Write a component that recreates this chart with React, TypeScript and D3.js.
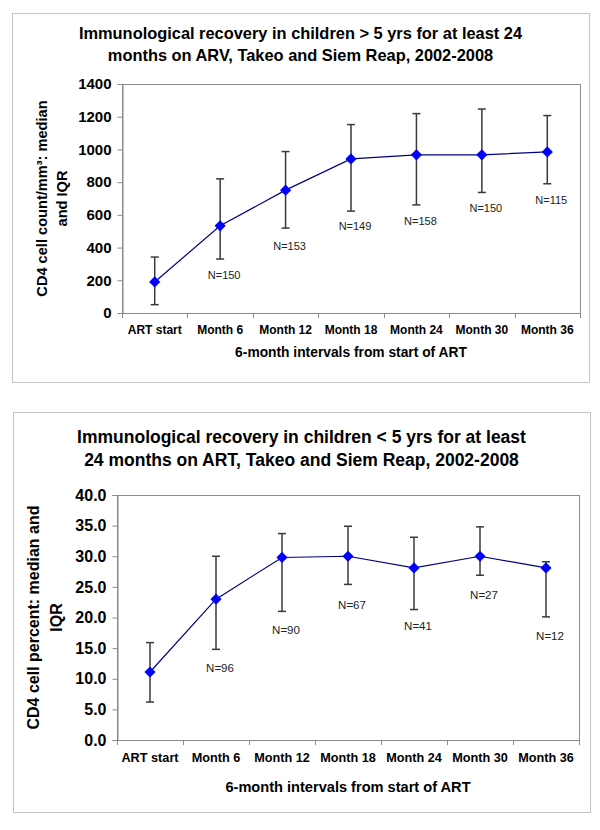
import React, { useEffect, useRef } from 'react';
import * as d3 from 'd3';

const categories = ['ART start', 'Month 6', 'Month 12', 'Month 18', 'Month 24', 'Month 30', 'Month 36'];

// chart 1: CD4 count, children > 5 yrs
const countMedian = [190, 533, 751, 942, 967, 967, 985];
const countUpper = [342, 820, 987, 1152, 1219, 1247, 1207];
const countLower = [51, 330, 519, 623, 661, 737, 790];
const countN = [null, 150, 153, 149, 158, 150, 115];
const countLabelAt = [null, 232, 411, 533, 560, 641, 692];
const countTicks = [0, 200, 400, 600, 800, 1000, 1200, 1400];

// chart 2: CD4 percent, children < 5 yrs
const pctMedian = [11.1, 23.0, 29.8, 30.0, 28.1, 30.0, 28.1];
const pctUpper = [15.9, 30.0, 33.7, 34.9, 33.1, 34.8, 29.1];
const pctLower = [6.2, 14.8, 21.0, 25.4, 21.3, 26.9, 20.1];
const pctN = [null, 96, 90, 67, 41, 27, 12];
const pctLabelAt = [null, 11.8, 17.9, 22.1, 18.6, 23.6, 17.0];
const pctTicks = [0, 5, 10, 15, 20, 25, 30, 35, 40];

const FONT = '"Liberation Sans", Arial, sans-serif';

const ErrorChart = ({ svgRef, cfg }) => {
  useEffect(() => {
    const svg = d3.select(svgRef.current);
    const g = svg.append('g');
    const { frame, plot, fs } = cfg;

    g.append('rect')
      .attr('x', frame.x + 0.5)
      .attr('y', frame.y + 0.5)
      .attr('width', frame.w)
      .attr('height', frame.h)
      .attr('fill', '#fff')
      .attr('stroke', '#c4c4c4');

    const x = d3.scaleBand().domain(categories).range([plot.left, plot.right]);
    const y = d3.scaleLinear().domain(cfg.domain).range([plot.bottom, plot.top]);

    g.append('rect')
      .attr('x', plot.left + 0.5)
      .attr('y', plot.top + 0.5)
      .attr('width', plot.right - plot.left)
      .attr('height', plot.bottom - plot.top)
      .attr('fill', 'none')
      .attr('stroke', '#8a8a8a');

    // title
    g.append('text')
      .attr('x', frame.x + frame.w / 2)
      .attr('text-anchor', 'middle')
      .attr('font-family', FONT)
      .attr('font-weight', 'bold')
      .attr('font-size', fs.title)
      .selectAll('tspan')
      .data(cfg.title)
      .join('tspan')
      .attr('x', frame.x + frame.w / 2)
      .attr('y', (d, i) => cfg.titleY[i] + fs.title * 0.35)
      .text((d) => d);

    // y axis
    const yAxis = g
      .append('g')
      .attr('transform', `translate(${plot.left + 0.5},0)`)
      .call(d3.axisLeft(y).tickValues(cfg.ticks).tickSize(5).tickPadding(6).tickFormat(cfg.fmt));
    yAxis.select('.domain').attr('stroke', '#8a8a8a');
    yAxis.selectAll('line').attr('stroke', '#8a8a8a');
    yAxis
      .selectAll('text')
      .attr('font-family', FONT)
      .attr('font-weight', 'bold')
      .attr('font-size', fs.yTick)
      .attr('fill', '#000');

    // x axis: ticks between categories
    const xAxis = g
      .append('g')
      .attr('transform', `translate(0,${plot.bottom + 0.5})`)
      .call(d3.axisBottom(x).tickSize(0).tickPadding(12));
    xAxis.select('.domain').remove();
    xAxis
      .selectAll('text')
      .attr('font-family', FONT)
      .attr('font-weight', 'bold')
      .attr('font-size', fs.xTick)
      .attr('fill', '#000');
    g.append('g')
      .selectAll('line')
      .data(d3.range(categories.length + 1))
      .join('line')
      .attr('x1', (i) => Math.round(plot.left + i * x.step()) + 0.5)
      .attr('x2', (i) => Math.round(plot.left + i * x.step()) + 0.5)
      .attr('y1', plot.bottom)
      .attr('y2', plot.bottom + 5)
      .attr('stroke', '#8a8a8a');

    // axis titles
    g.append('text')
      .attr('x', (plot.left + plot.right) / 2)
      .attr('y', cfg.xTitleY + fs.xTitle * 0.35)
      .attr('text-anchor', 'middle')
      .attr('font-family', FONT)
      .attr('font-weight', 'bold')
      .attr('font-size', fs.xTitle)
      .text('6-month intervals from start of ART');

    const cy = (plot.top + plot.bottom) / 2;
    cfg.yTitle.forEach((line, i) => {
      g.append('text')
        .attr('transform', `translate(${cfg.yTitleX[i] + fs.yTitle * 0.35},${cy}) rotate(-90)`)
        .attr('text-anchor', 'middle')
        .attr('font-family', FONT)
        .attr('font-weight', 'bold')
        .attr('font-size', fs.yTitle)
        .text(line);
    });

    const cx = (i) => x(categories[i]) + x.bandwidth() / 2;

    // error bars
    const bars = g.append('g').attr('stroke', '#3a3a3a').attr('stroke-width', 1.5);
    cfg.median.forEach((m, i) => {
      const x0 = cx(i);
      bars.append('line').attr('x1', x0).attr('x2', x0).attr('y1', y(cfg.upper[i])).attr('y2', y(cfg.lower[i]));
      [cfg.upper[i], cfg.lower[i]].forEach((v) => {
        bars.append('line').attr('x1', x0 - 4).attr('x2', x0 + 4).attr('y1', y(v)).attr('y2', y(v));
      });
    });

    // median line
    const line = d3
      .line()
      .x((d, i) => cx(i))
      .y((d) => y(d));
    g.append('path')
      .datum(cfg.median)
      .attr('d', line)
      .attr('fill', 'none')
      .attr('stroke', '#000080')
      .attr('stroke-width', 1.2);

    g.append('g')
      .selectAll('path')
      .data(cfg.median)
      .join('path')
      .attr('d', d3.symbol(d3.symbolDiamond2, 80)())
      .attr('transform', (d, i) => `translate(${cx(i)},${y(d)})`)
      .attr('fill', '#0000ff');

    // N labels
    g.append('g')
      .selectAll('text')
      .data(cfg.n.map((n, i) => ({ n, at: cfg.labelAt[i], i })).filter((d) => d.n != null))
      .join('text')
      .attr('x', (d) => cx(d.i) + 4)
      .attr('y', (d) => y(d.at) + fs.n * 0.35)
      .attr('text-anchor', 'middle')
      .attr('font-family', FONT)
      .attr('font-size', fs.n)
      .attr('fill', '#222')
      .text((d) => `N=${d.n}`);

    return () => g.remove();
  }, [cfg]);

  return null;
};

const topCfg = {
  frame: { x: 12, y: 13, w: 577, h: 369 },
  plot: { left: 122, right: 580, top: 84, bottom: 313 },
  fs: { title: 16.4, yTick: 15, xTick: 12, xTitle: 13.8, yTitle: 14.6, n: 11 },
  domain: [0, 1400],
  ticks: countTicks,
  fmt: d3.format('d'),
  title: [
    'Immunological recovery in children > 5 yrs for at least 24',
    'months on ARV, Takeo and Siem Reap, 2002-2008',
  ],
  titleY: [33, 55],
  xTitleY: 352,
  yTitle: ['CD4 cell count/mm³: median', 'and IQR'],
  yTitleX: [42, 62],
  median: countMedian,
  upper: countUpper,
  lower: countLower,
  n: countN,
  labelAt: countLabelAt,
};

const bottomCfg = {
  frame: { x: 13, y: 412, w: 577, h: 400 },
  plot: { left: 117, right: 579, top: 495, bottom: 740 },
  fs: { title: 17.5, yTick: 16, xTick: 12.7, xTitle: 14.6, yTitle: 16, n: 11.5 },
  domain: [0, 40],
  ticks: pctTicks,
  fmt: d3.format('.1f'),
  title: [
    'Immunological recovery in children < 5 yrs for at least',
    '24 months on ART, Takeo and Siem Reap, 2002-2008',
  ],
  titleY: [437, 460],
  xTitleY: 787,
  yTitle: ['CD4 cell percent: median and', 'IQR'],
  yTitleX: [33, 56],
  median: pctMedian,
  upper: pctUpper,
  lower: pctLower,
  n: pctN,
  labelAt: pctLabelAt,
};

export default function App() {
  const svgRef = useRef(null);
  return (
    <svg
      ref={svgRef}
      width={600}
      height={830}
      style={{ position: 'absolute', left: 0, top: 0, background: '#fff' }}
    >
      <ErrorChart svgRef={svgRef} cfg={topCfg} />
      <ErrorChart svgRef={svgRef} cfg={bottomCfg} />
    </svg>
  );
}
